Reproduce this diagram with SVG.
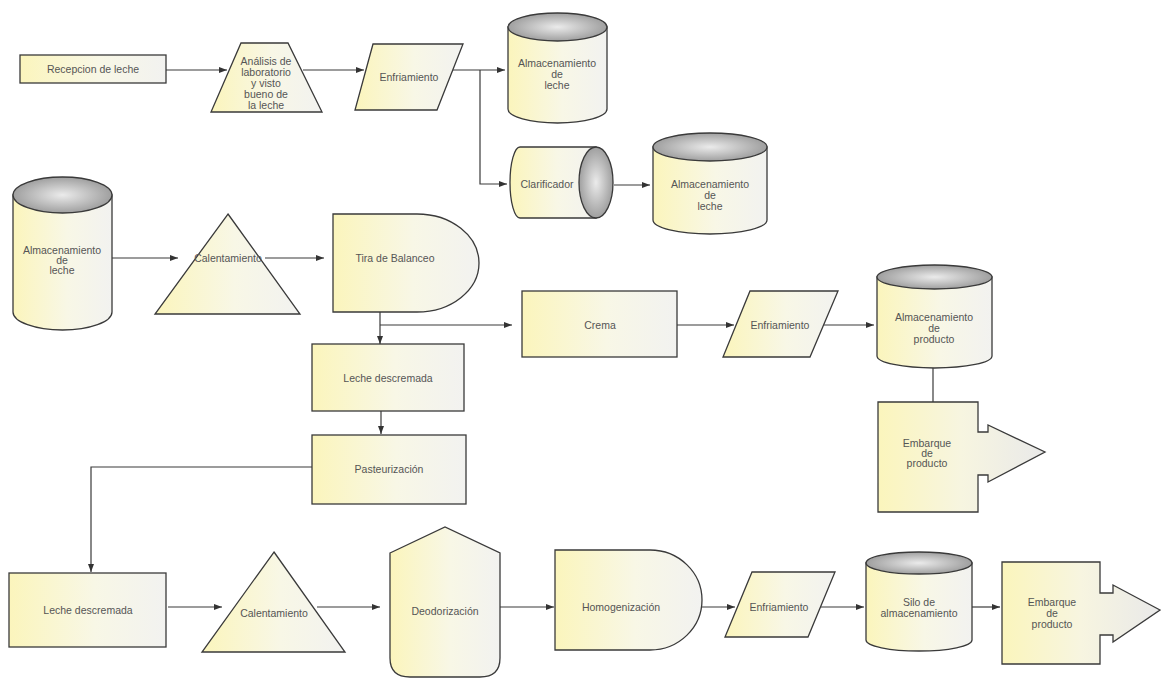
<svg xmlns="http://www.w3.org/2000/svg" width="1162" height="679" viewBox="0 0 1162 679">
<style>
.n{stroke:#3a3a3a;stroke-width:1.3;fill:url(#yel)}
.top{stroke:#3a3a3a;stroke-width:1.3;fill:url(#gray)}
.c{stroke:#3a3a3a;stroke-width:1.2;fill:none}
text{font-family:"Liberation Sans",Arial,sans-serif;font-size:10.5px;fill:#555;text-anchor:middle}
</style>
<defs>
<linearGradient id="yel" x1="0" y1="0" x2="1" y2="0">
<stop offset="0" stop-color="#fbf5bc"/>
<stop offset="0.55" stop-color="#f8f7e6"/>
<stop offset="1" stop-color="#f2f2f0"/>
</linearGradient>
<linearGradient id="emb" x1="0" y1="0" x2="1" y2="0">
<stop offset="0" stop-color="#fbf5bc"/>
<stop offset="0.5" stop-color="#f7f5e0"/>
<stop offset="1" stop-color="#e9e9e9"/>
</linearGradient>
<radialGradient id="gray" cx="0.5" cy="0.5" r="0.6">
<stop offset="0" stop-color="#ebebeb"/>
<stop offset="1" stop-color="#909090"/>
</radialGradient>
<marker id="ah" markerWidth="8" markerHeight="6" refX="8" refY="3" orient="auto" markerUnits="userSpaceOnUse">
<path d="M0,0 L8,3 L0,6 Z" fill="#333"/>
</marker>
</defs>

<g id="connectors">
<path class="c" d="M166,70 H227" marker-end="url(#ah)"/>
<path class="c" d="M303,70 H364" marker-end="url(#ah)"/>
<path class="c" d="M453,70 H505" marker-end="url(#ah)"/>
<path class="c" d="M480,70 V184 H507" marker-end="url(#ah)"/>
<path class="c" d="M614,185 H650" marker-end="url(#ah)"/>
<path class="c" d="M112,258 H178" marker-end="url(#ah)"/>
<path class="c" d="M265,258 H324" marker-end="url(#ah)"/>
<path class="c" d="M380,312 V344" marker-end="url(#ah)"/>
<path class="c" d="M380,325 H512" marker-end="url(#ah)"/>
<path class="c" d="M677,325 H734" marker-end="url(#ah)"/>
<path class="c" d="M824,325 H874" marker-end="url(#ah)"/>
<path class="c" d="M933,368 V402"/>
<path class="c" d="M381,411 V434" marker-end="url(#ah)"/>
<path class="c" d="M312,467 H91 V572" marker-end="url(#ah)"/>
<path class="c" d="M168,607 H222" marker-end="url(#ah)"/>
<path class="c" d="M317,607 H380" marker-end="url(#ah)"/>
<path class="c" d="M500,607 H554" marker-end="url(#ah)"/>
<path class="c" d="M702,607 H735" marker-end="url(#ah)"/>
<path class="c" d="M820,607 H864" marker-end="url(#ah)"/>
<path class="c" d="M972,607 H1000" marker-end="url(#ah)"/>
</g>

<g id="recepcion">
<rect class="n" x="20" y="55" width="146" height="28"/>
<text x="93" y="73">Recepcion de leche</text>
</g>

<g id="analisis">
<path class="n" d="M241,43 H288 L322,112 H211 Z"/>
<text x="266" y="65">Análisis de</text>
<text x="266" y="76">laboratorio</text>
<text x="266" y="87">y visto</text>
<text x="266" y="98">bueno de</text>
<text x="266" y="109">la leche</text>
</g>

<g id="enfriamiento1">
<path class="n" d="M373,44 H463 L437,110 H355 Z"/>
<text x="409" y="81">Enfriamiento</text>
</g>

<g id="almacen1">
<path class="n" d="M508,27 V109 A49.5,14 0 0 0 607,109 V27 Z"/>
<ellipse class="top" cx="557.5" cy="27" rx="49.5" ry="14"/>
<text x="557" y="67">Almacenamiento</text>
<text x="557" y="78">de</text>
<text x="557" y="89">leche</text>
</g>

<g id="clarificador">
<path class="n" d="M596,147 H520 A10,35.5 0 0 0 520,218 H596 Z"/>
<ellipse class="top" cx="596" cy="182.5" rx="17" ry="35.5"/>
<text x="547" y="188">Clarificador</text>
</g>

<g id="almacen2">
<path class="n" d="M653,147 V220 A57,14 0 0 0 767,220 V147 Z"/>
<ellipse class="top" cx="710" cy="147" rx="57" ry="14"/>
<text x="710" y="188">Almacenamiento</text>
<text x="710" y="199">de</text>
<text x="710" y="210">leche</text>
</g>

<g id="almacen3">
<path class="n" d="M13,195 V312 A49.5,18 0 0 0 112,312 V195 Z"/>
<ellipse class="top" cx="62.5" cy="195" rx="49.5" ry="18"/>
<text x="62" y="254">Almacenamiento</text>
<text x="62" y="264">de</text>
<text x="62" y="274">leche</text>
</g>

<g id="calentamiento1">
<path class="n" d="M228,214 L300,314 H155 Z"/>
<text x="228" y="262">Calentamiento</text>
</g>

<g id="tira">
<path class="n" d="M333,214 H417 A62,49 0 0 1 417,312 H333 Z"/>
<text x="395" y="262">Tira de Balanceo</text>
</g>

<g id="crema">
<rect class="n" x="522" y="291" width="155" height="66"/>
<text x="600" y="329">Crema</text>
</g>

<g id="enfriamiento2">
<path class="n" d="M750,291 H838 L810,357 H723 Z"/>
<text x="780" y="329">Enfriamiento</text>
</g>

<g id="almacenProducto">
<path class="n" d="M877,277 V356 A57.5,12 0 0 0 992,356 V277 Z"/>
<ellipse class="top" cx="934.5" cy="277" rx="57.5" ry="12"/>
<text x="934" y="321">Almacenamiento</text>
<text x="934" y="332">de</text>
<text x="934" y="343">producto</text>
</g>

<g id="embarque1">
<path class="n" style="fill:url(#emb)" d="M878,402 H978 V432 H988 V425 L1045,452 L988,482 V475 H978 V512 H878 Z"/>
<text x="927" y="447">Embarque</text>
<text x="927" y="457">de</text>
<text x="927" y="467">producto</text>
</g>

<g id="leche1">
<rect class="n" x="312" y="344" width="152" height="67"/>
<text x="388" y="382">Leche descremada</text>
</g>

<g id="pasteurizacion">
<rect class="n" x="312" y="435" width="154" height="69"/>
<text x="389" y="473">Pasteurización</text>
</g>

<g id="leche2">
<rect class="n" x="9" y="573" width="157" height="74"/>
<text x="88" y="614">Leche descremada</text>
</g>

<g id="calentamiento2">
<path class="n" d="M274,552 L345,652 H202 Z"/>
<text x="274" y="617">Calentamiento</text>
</g>

<g id="deodorizacion">
<path class="n" d="M390,553 L445,527 L500,553 V658 Q500,677 480,677 H410 Q390,677 390,658 Z"/>
<text x="445" y="615">Deodorización</text>
</g>

<g id="homogenizacion">
<path class="n" d="M555,550 H650 A52,50 0 0 1 650,650 H555 Z"/>
<text x="621" y="611">Homogenización</text>
</g>

<g id="enfriamiento3">
<path class="n" d="M752,572 H835 L808,637 H725 Z"/>
<text x="779" y="611">Enfriamiento</text>
</g>

<g id="silo">
<path class="n" d="M866,563 V640 A53,11 0 0 0 972,640 V563 Z"/>
<ellipse class="top" cx="919" cy="563" rx="53" ry="11"/>
<text x="919" y="606">Silo de</text>
<text x="919" y="617">almacenamiento</text>
</g>

<g id="embarque2">
<path class="n" style="fill:url(#emb)" d="M1002,562 H1100 V593 H1113 V585 L1160,610 L1113,642 V635 H1100 V664 H1002 Z"/>
<text x="1052" y="606">Embarque</text>
<text x="1052" y="617">de</text>
<text x="1052" y="628">producto</text>
</g>
</svg>
